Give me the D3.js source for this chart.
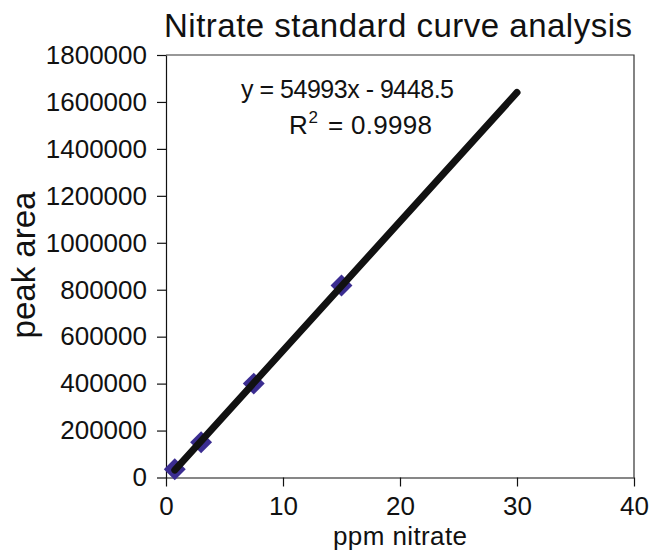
<!DOCTYPE html>
<html>
<head>
<meta charset="utf-8">
<script src="https://cdn.jsdelivr.net/npm/d3@7"></script>
<style>
  body { margin: 0; background: #fff; }
  text { font-family: "Liberation Sans", Arial, sans-serif; fill: #111; }
</style>
</head>
<body>
<div id="chart"></div>
<script>
// Data
const ppm = [0.75, 3, 7.5, 15];
const peakArea = [35000, 150000, 400000, 818000];
const xTicks = [0, 10, 20, 30, 40];
const yTicks = [0, 200000, 400000, 600000, 800000, 1000000, 1200000, 1400000, 1600000, 1800000];
// linear trendline as printed on the chart, drawn forward to 30 ppm
const slope = 54993, intercept = -9448.5;
const trendX = [0.75, 30];

const width = 655, height = 557;
const margin = { top: 55, right: 21, bottom: 79.5, left: 166 };

const svg = d3.select('#chart')
  .append('svg')
  .attr('width', width)
  .attr('height', height);

const x = d3.scaleLinear().domain([0, 40]).range([margin.left, width - margin.right]);
const y = d3.scaleLinear().domain([0, 1800000]).range([height - margin.bottom, margin.top]);

// box top + right
svg.append('path')
  .attr('d', `M${x(0)},${y(1800000)}H${x(40)}V${y(0)}`)
  .attr('fill', 'none')
  .attr('stroke', '#333')
  .attr('stroke-width', 1.2);

const xAxis = svg.append('g')
  .attr('transform', `translate(0,${y(0)})`)
  .call(d3.axisBottom(x).tickValues(xTicks).tickSize(9).tickSizeOuter(0).tickPadding(10));

const yAxis = svg.append('g')
  .attr('transform', `translate(${x(0)},0)`)
  .call(d3.axisLeft(y).tickValues(yTicks).tickFormat(d3.format('d')).tickSize(9).tickSizeOuter(0).tickPadding(10));

[xAxis, yAxis].forEach(a => {
  a.selectAll('path, line').attr('stroke', '#111').attr('stroke-width', 1.2);
  a.selectAll('text').style('font-size', '26px').attr('fill', '#111');
});

// markers under the trendline
svg.append('g')
  .selectAll('path')
  .data(ppm)
  .join('path')
  .attr('d', d3.symbol(d3.symbolSquare, 240))
  .attr('transform', (d, i) => `translate(${x(d)},${y(peakArea[i])}) rotate(45)`)
  .attr('fill', '#3b2d91');

svg.append('line')
  .attr('x1', x(trendX[0]))
  .attr('y1', y(slope * trendX[0] + intercept))
  .attr('x2', x(trendX[1]))
  .attr('y2', y(slope * trendX[1] + intercept))
  .attr('stroke', '#111')
  .attr('stroke-width', 7)
  .attr('stroke-linecap', 'round');

// titles
svg.append('text')
  .attr('x', 164)
  .attr('y', 37)
  .attr('textLength', 468)
  .attr('lengthAdjust', 'spacing')
  .style('font-size', '33px')
  .text('Nitrate standard curve analysis');

svg.append('text')
  .attr('x', 333)
  .attr('y', 545)
  .attr('textLength', 134)
  .attr('lengthAdjust', 'spacing')
  .style('font-size', '26px')
  .text('ppm nitrate');

svg.append('text')
  .attr('transform', 'translate(35,265) rotate(-90)')
  .attr('text-anchor', 'middle')
  .style('font-size', '33px')
  .text('peak area');

// trendline label
svg.append('text')
  .attr('x', 241)
  .attr('y', 98)
  .attr('textLength', 213)
  .attr('lengthAdjust', 'spacing')
  .style('font-size', '25px')
  .text('y = 54993x - 9448.5');

svg.append('text')
  .attr('x', 289)
  .attr('y', 134)
  .style('font-size', '26px')
  .text('R');
svg.append('text')
  .attr('x', 308.5)
  .attr('y', 123)
  .style('font-size', '17px')
  .text('2');
svg.append('text')
  .attr('x', 328)
  .attr('y', 134)
  .attr('textLength', 104)
  .attr('lengthAdjust', 'spacing')
  .style('font-size', '26px')
  .text('= 0.9998');
</script>
</body>
</html>
